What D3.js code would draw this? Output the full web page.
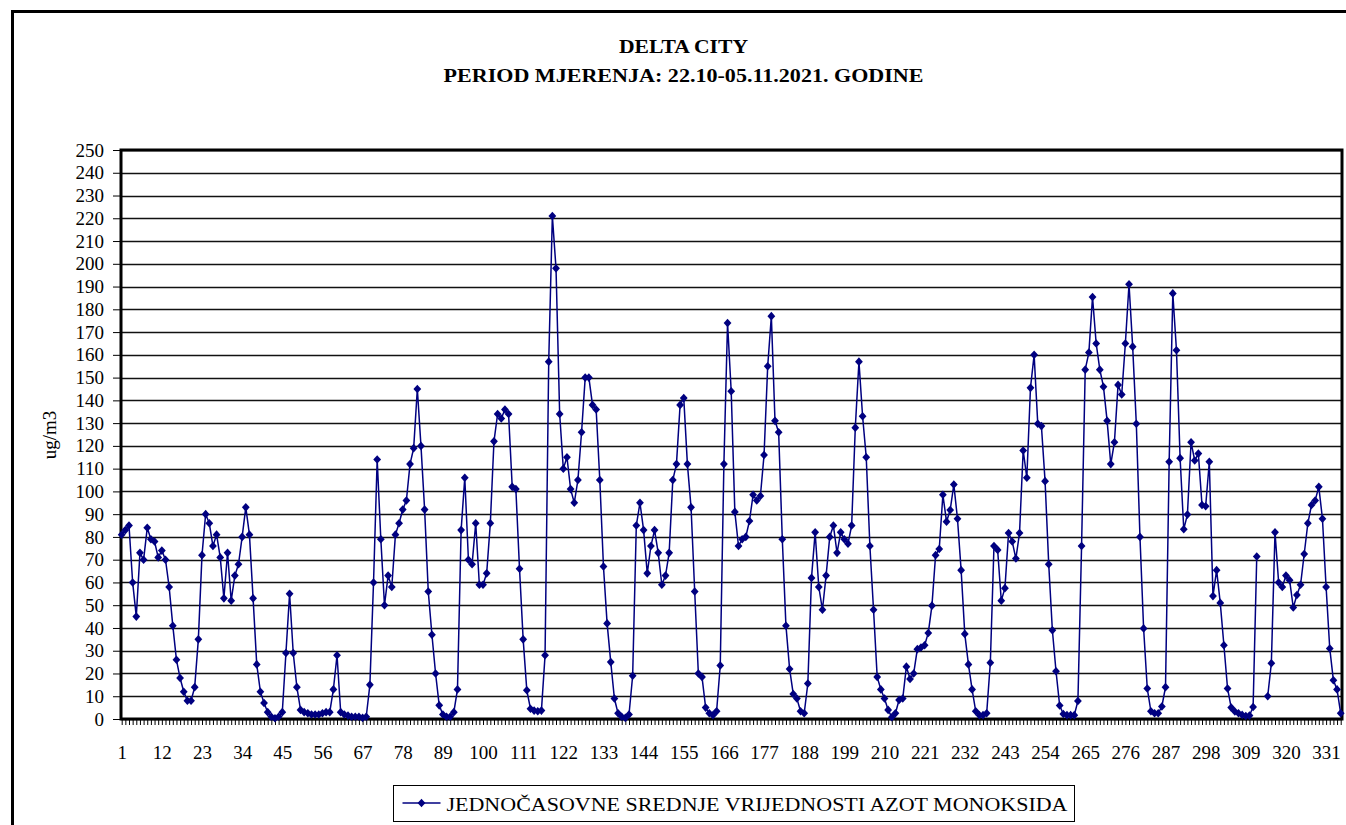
<!DOCTYPE html>
<html>
<head>
<meta charset="utf-8">
<script src="https://cdn.jsdelivr.net/npm/d3@7"></script>
<style>
  body { margin: 0; background: #fff; }
  text { font-family: "Liberation Serif", "Times New Roman", serif; }
</style>
</head>
<body>
<div id="container"></div>
<script>
/** CONSTANTS AND GLOBALS */
const width = 1346,
  height = 825,
  margin = { top: 150, bottom: 106, left: 121, right: 4 };

// hourly NO values (ug/m3), hour index 1..335, null = missing
const values = [
  81, 83, 85, 60, 45, 73, 70, 84, 79, 78,
  71, 74, 70, 58, 41, 26, 18, 12, 8, 8,
  14, 35, 72, 90, 86, 76, 81, 71, 53, 73,
  52, 63, 68, 80, 93, 81, 53, 24, 12, 7,
  3, 1, 0.3, 1, 3, 29, 55, 29, 14, 4,
  3, 2.5, 2, 2, 2, 2.5, 3, 3, 13, 28,
  3, 2, 1.5, 1, 1, 1, 0.5, 1, 15, 60,
  114, 79, 50, 63, 58, 81, 86, 92, 96, 112,
  119, 145, 120, 92, 56, 37, 20, 6, 2, 1,
  1, 3, 13, 83, 106, 70, 68, 86, 59, 59,
  64, 86, 122, 134, 132, 136, 134, 102, 101, 66,
  35, 12.6, 4.5, 3.7, 3.4, 3.7, 28, 157, 221, 198,
  134, 110, 115, 101, 95, 105, 126, 150, 150, 138,
  136, 105, 67, 42, 25, 9, 2.5, 1, 0.5, 2,
  19, 85, 95, 83, 64, 76, 83, 73, 59, 63,
  73, 105, 112, 138, 141, 112, 93, 56, 20, 18.5,
  5, 2.5, 1.7, 3.4, 23.5, 112, 174, 144, 91, 76,
  79, 80, 87, 98.5, 96, 98, 116, 155, 177, 131,
  126, 79, 41, 22, 11, 9, 3.4, 2.5, 15.6, 62,
  82, 58, 48, 63, 80, 85, 73, 82, 79, 77,
  85, 128, 157, 133, 115, 76, 48, 18.5, 13, 9,
  4, 0.8, 2.5, 8.4, 9, 23, 17.6, 20, 30.7, 31.4,
  32.4, 37.8, 49.8, 72, 74.7, 98.5, 86.7, 91.8, 103, 88,
  65.4, 37.4, 24, 13, 3.4, 1.7, 1.7, 2.5, 24.7, 76,
  74.3, 52, 57.5, 81.7, 78, 70.5, 81.7, 118, 106, 145.5,
  160, 129.7, 128.7, 104.5, 68, 39, 21, 5.9, 2.2, 1.7,
  1.7, 1.7, 7.9, 76, 153.5, 161, 185.4, 165, 153.5, 146,
  131, 112, 121.6, 146.8, 142.6, 165, 191, 163.6, 129.7, 80,
  39.8, 13.4, 3.4, 2.5, 2.5, 5.5, 14, 113, 187, 162,
  114.6, 83.4, 89.8, 121.6, 113.6, 116.6, 94, 93.5, 113, 54,
  65.4, 51, 32.4, 13.4, 5, 3.3, 2.5, 1.8, 1.3, 1.5,
  5.3, 71.4, null, null, 10, 24.5, 82, 60, 58, 63,
  61, 49, 54.5, 59, 72.5, 86, 94, 96, 102, 88,
  58, 31, 17, 13, 2.5
];
const hours = values.map((v, i) => i + 1);
const xTickLabels = d3.range(1, 336, 11); // 1, 12, 23 ... 331
const yTicks = d3.range(0, 251, 10);

const titleLines = ["DELTA CITY", "PERIOD MJERENJA: 22.10-05.11.2021. GODINE"];
const titleWidths = [129, 480];
const yTitle = "ug/m3";
const legendLabel = "JEDNOČASOVNE SREDNJE VRIJEDNOSTI AZOT MONOKSIDA";

const lineColor = "#000080";
const serif = "Liberation Serif";

let svg;

/** INITIALIZING FUNCTION */
function init() {
  svg = d3.select("#container")
    .append("svg")
    .attr("width", width)
    .attr("height", height);

  svg.append("rect")
    .attr("width", width)
    .attr("height", height)
    .attr("fill", "#fff");

  // outer chart frame
  svg.append("rect")
    .attr("x", 12.5)
    .attr("y", 11.5)
    .attr("width", width + 20)
    .attr("height", height + 20)
    .attr("fill", "none")
    .attr("stroke", "#000")
    .attr("stroke-width", 3);

  const xScale = d3.scaleLinear()
    .domain([1, hours.length])
    .range([margin.left + 0.7, width - margin.right - 1.3]);

  const yScale = d3.scaleLinear()
    .domain([0, 250])
    .range([height - margin.bottom, margin.top]);

  // gridlines
  svg.selectAll(".grid")
    .data(yTicks)
    .join("line")
    .attr("class", "grid")
    .attr("x1", margin.left)
    .attr("x2", width - margin.right)
    .attr("y1", d => Math.round(yScale(d)) + 0.5)
    .attr("y2", d => Math.round(yScale(d)) + 0.5)
    .attr("stroke", "#111")
    .attr("stroke-width", 1.4);

  // y axis
  const yAxis = d3.axisLeft(yScale)
    .tickValues(yTicks)
    .tickSize(8)
    .tickPadding(9);
  const yg = svg.append("g")
    .attr("transform", `translate(${margin.left},0)`)
    .call(yAxis);
  yg.select(".domain").remove();
  yg.selectAll("text")
    .attr("font-size", 19)
    .attr("font-family", serif)
    .attr("fill", "#000");

  // x axis: tick at every hour, label every 11th
  const xAxis = d3.axisBottom(xScale)
    .tickValues(hours)
    .tickSize(6)
    .tickPadding(21)
    .tickFormat(d => xTickLabels.includes(d) ? d : "");
  const xg = svg.append("g")
    .attr("transform", `translate(0,${height - margin.bottom})`)
    .call(xAxis);
  xg.select(".domain").remove();
  xg.selectAll("line").attr("stroke-width", 1);
  xg.selectAll("text")
    .attr("font-size", 19)
    .attr("font-family", serif)
    .attr("fill", "#000");

  // plot frame
  svg.append("rect")
    .attr("x", margin.left)
    .attr("y", margin.top)
    .attr("width", width - margin.left - margin.right)
    .attr("height", height - margin.top - margin.bottom)
    .attr("fill", "none")
    .attr("stroke", "#000")
    .attr("stroke-width", 3);

  const data = hours.map((h, i) => ({ h, v: values[i] }));

  const lineGen = d3.line()
    .defined(d => d.v != null)
    .x(d => xScale(d.h))
    .y(d => yScale(d.v));

  svg.append("path")
    .datum(data)
    .attr("d", lineGen)
    .attr("fill", "none")
    .attr("stroke", lineColor)
    .attr("stroke-width", 1.5);

  const diamond = "M0,-4.3L3.9,0L0,4.3L-3.9,0Z";
  svg.selectAll(".pt")
    .data(data.filter(d => d.v != null))
    .join("path")
    .attr("class", "pt")
    .attr("d", diamond)
    .attr("transform", d => `translate(${xScale(d.h)},${yScale(d.v)})`)
    .attr("fill", lineColor);

  // titles
  svg.selectAll(".title")
    .data(titleLines)
    .join("text")
    .attr("class", "title")
    .attr("x", (d, i) => 683.5 - titleWidths[i] / 2)
    .attr("y", (d, i) => 53 + i * 29)
    .attr("font-family", serif)
    .attr("font-size", 19)
    .attr("font-weight", "bold")
    .attr("textLength", (d, i) => titleWidths[i])
    .attr("lengthAdjust", "spacingAndGlyphs")
    .text(d => d);

  svg.append("text")
    .attr("transform", "translate(56,435) rotate(-90)")
    .attr("text-anchor", "middle")
    .attr("font-family", serif)
    .attr("font-size", 19)
    .text(yTitle);

  // legend
  const lg = svg.append("g").attr("transform", "translate(393.5,785.5)");
  lg.append("rect")
    .attr("width", 681)
    .attr("height", 36)
    .attr("fill", "#fff")
    .attr("stroke", "#000")
    .attr("stroke-width", 1);
  lg.append("line")
    .attr("x1", 9).attr("x2", 47)
    .attr("y1", 17.5).attr("y2", 17.5)
    .attr("stroke", lineColor)
    .attr("stroke-width", 1.5);
  lg.append("path")
    .attr("d", diamond)
    .attr("transform", "translate(28,17.5)")
    .attr("fill", lineColor);
  lg.append("text")
    .attr("x", 53)
    .attr("y", 25)
    .attr("font-family", serif)
    .attr("font-size", 19)
    .attr("textLength", 621)
    .attr("lengthAdjust", "spacingAndGlyphs")
    .text(legendLabel);
}

init();
</script>
</body>
</html>
